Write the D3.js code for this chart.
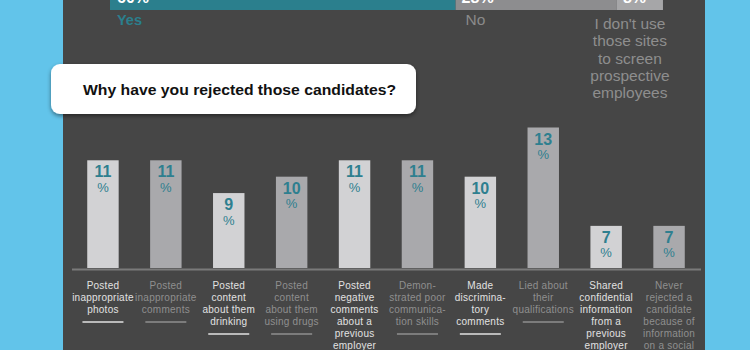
<!DOCTYPE html>
<html>
<head>
<meta charset="utf-8">
<script src="https://cdn.jsdelivr.net/npm/d3@7"></script>
<style>
  html, body { margin: 0; padding: 0; background: #62c4ea; }
  svg { display: block; }
  text { font-family: "Liberation Sans", Arial, sans-serif; }
</style>
</head>
<body>
<svg id="chart" width="750" height="350"></svg>
<script>
// ---- data ----
const topCategories = ["Yes", "No", "I don't use those sites to screen prospective employees"];
const topValues = [60, 28, 8];
const topLabelLines = [["Yes"], ["No"], ["I don't use", "those sites", "to screen", "prospective", "employees"]];

const question = "Why have you rejected those candidates?";

const categories = [
  "Posted inappropriate photos",
  "Posted inappropriate comments",
  "Posted content about them drinking",
  "Posted content about them using drugs",
  "Posted negative comments about a previous employer",
  "Demonstrated poor communication skills",
  "Made discriminatory comments",
  "Lied about their qualifications",
  "Shared confidential information from a previous employer",
  "Never rejected a candidate because of information on a social"
];
const categoryLines = [
  ["Posted", "inappropriate", "photos"],
  ["Posted", "inappropriate", "comments"],
  ["Posted", "content", "about them", "drinking"],
  ["Posted", "content", "about them", "using drugs"],
  ["Posted", "negative", "comments", "about a", "previous", "employer"],
  ["Demon-", "strated poor", "communica-", "tion skills"],
  ["Made", "discrimina-", "tory", "comments"],
  ["Lied about", "their", "qualifications"],
  ["Shared", "confidential", "information", "from a", "previous", "employer"],
  ["Never", "rejected a", "candidate", "because of", "information", "on a social"]
];
const values = [11, 11, 9, 10, 11, 11, 10, 13, 7, 7];

// ---- drawing ----
const svg = d3.select("#chart");
const W = 750, H = 350;

svg.append("rect").attr("x", 0).attr("y", 0).attr("width", W).attr("height", H).attr("fill", "#62c4ea");
svg.append("rect").attr("x", 63).attr("y", 0).attr("width", 642).attr("height", H).attr("fill", "#464646");

// top stacked bar
const xTop = d3.scaleLinear().domain([0, 100]).range([110, 686]);
const topColors = ["#2b7f8d", "#8d8d8f", "#a6a6a8"];
let acc = 0;
const topSegs = topValues.map((v, i) => { const s = { i, v, start: acc, end: acc + v }; acc += v; return s; });

svg.selectAll(".topseg").data(topSegs).join("rect")
  .attr("class", "topseg")
  .attr("x", d => xTop(d.start))
  .attr("y", -20)
  .attr("width", d => xTop(d.end) - xTop(d.start))
  .attr("height", 30)
  .attr("fill", d => topColors[d.i]);

svg.selectAll(".topval").data(topSegs).join("text")
  .attr("class", "topval")
  .attr("x", d => xTop(d.start) + (d.i === 0 ? 7 : 6))
  .attr("y", 3)
  .attr("fill", "#ffffff")
  .attr("font-weight", "bold")
  .attr("font-size", 16)
  .text(d => d.v + "%");

// top labels
const topLabelColors = ["#2b7f8d", "#8a8a8a", "#8e8e8e"];
topSegs.forEach(d => {
  const lines = topLabelLines[d.i];
  const t = svg.append("text")
    .attr("fill", topLabelColors[d.i])
    .attr("font-size", d.i === 0 ? 14.5 : 15.5)
    .attr("font-weight", d.i === 0 ? "bold" : "normal");
  if (d.i < 2) {
    t.attr("x", xTop(d.start) + (d.i === 0 ? 7 : 10)).attr("y", 25).text(lines[0]);
  } else {
    t.attr("text-anchor", "middle");
    lines.forEach((ln, k) => {
      t.append("tspan").attr("x", (xTop(d.start) + xTop(d.end)) / 2 - 10)
        .attr("y", 29 + k * 17.3).text(ln);
    });
  }
});

// question box
const qg = svg.append("g");
const defs = svg.append("defs");
const f = defs.append("filter").attr("id", "sh").attr("x", "-10%").attr("y", "-30%").attr("width", "120%").attr("height", "170%");
f.append("feDropShadow").attr("dx", 0).attr("dy", 2).attr("stdDeviation", 2).attr("flood-color", "#000").attr("flood-opacity", 0.45);
qg.append("rect").attr("x", 51).attr("y", 64).attr("width", 365).attr("height", 50)
  .attr("rx", 9).attr("fill", "#ffffff").attr("filter", "url(#sh)");
qg.append("text").attr("x", 83).attr("y", 94.5)
  .attr("font-size", 15).attr("font-weight", "bold").attr("fill", "#111")
  .attr("textLength", 313).attr("lengthAdjust", "spacingAndGlyphs")
  .text(question);

// main bar chart
const baseY = 268;
const x = d3.scaleBand().domain(categories).range([71.5, 700.5]).paddingInner(0.5).paddingOuter(0.25);
const y = d3.scaleLinear().domain([4.43, 13]).range([baseY, 127.5]);
const barColors = ["#d2d2d4", "#a9a9ac"];
const labelColors = ["#e2e2e2", "#8f8f8f"];

const bars = svg.append("g");
bars.selectAll("rect").data(values).join("rect")
  .attr("x", (d, i) => x(categories[i]))
  .attr("y", d => y(d))
  .attr("width", x.bandwidth())
  .attr("height", d => baseY - y(d))
  .attr("fill", (d, i) => barColors[i % 2]);

// baseline axis
const axis = d3.axisBottom(x).tickSize(0).tickFormat("");
const ag = svg.append("g").attr("transform", `translate(0,${baseY + 1})`).call(axis);
ag.select(".domain").attr("stroke", "#7a7a7a").attr("stroke-width", 2.2);

// value labels
const vl = svg.append("g");
values.forEach((v, i) => {
  const cx = x(categories[i]) + x.bandwidth() / 2;
  vl.append("text").attr("x", cx).attr("y", y(v) + 17).attr("text-anchor", "middle")
    .attr("fill", "#2e7f8f").attr("font-weight", "bold").attr("font-size", 16).text(v);
  vl.append("text").attr("x", cx).attr("y", y(v) + 31.5).attr("text-anchor", "middle")
    .attr("fill", "#2e7f8f").attr("font-size", 13).text("%");
});

// category labels
const cl = svg.append("g");
categoryLines.forEach((lines, i) => {
  const cx = x(categories[i]) + x.bandwidth() / 2;
  const col = labelColors[i % 2];
  const t = cl.append("text").attr("text-anchor", "middle").attr("fill", col)
    .attr("font-size", 10).attr("letter-spacing", 0.25);
  lines.forEach((ln, k) => {
    t.append("tspan").attr("x", cx).attr("y", 288.5 + k * 12).text(ln);
  });
  const uy = 285 + (lines.length - 1) * 12 + 13;
  cl.append("line").attr("x1", cx - 20.5).attr("x2", cx + 20.5)
    .attr("y1", uy).attr("y2", uy).attr("stroke", col).attr("stroke-width", 1.5);
});
</script>
</body>
</html>
